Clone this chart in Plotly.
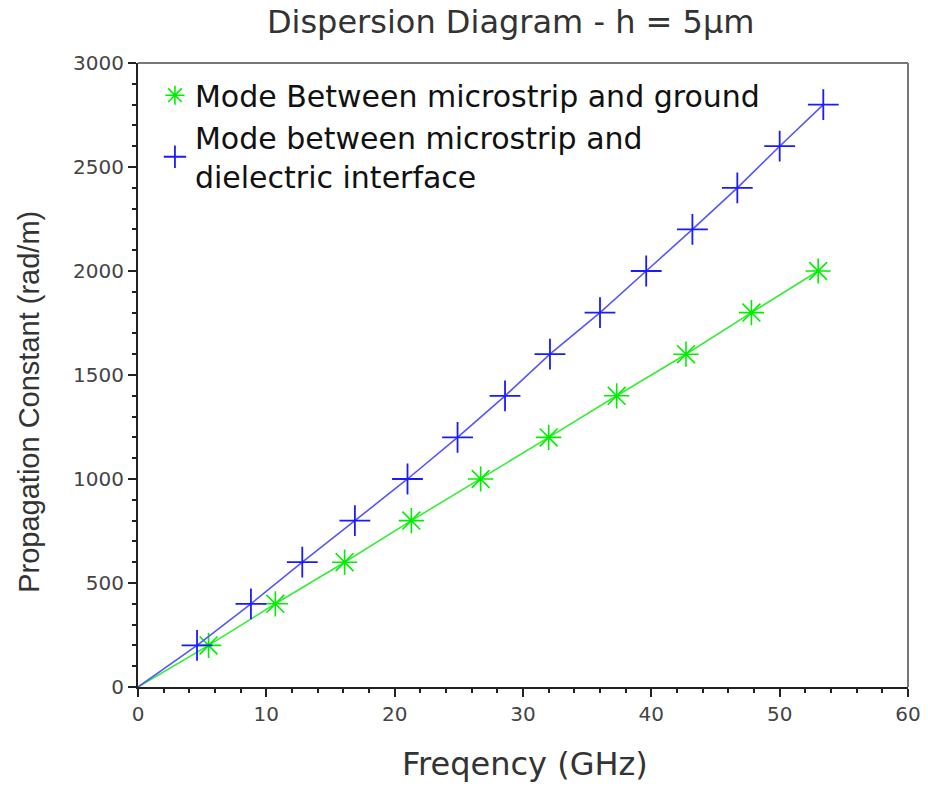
import plotly.graph_objects as go

# Data
green_freq = [0, 5.5, 10.7, 16.1, 21.3, 26.7, 32.0, 37.3, 42.7, 47.8, 53.0]
green_beta = [0, 200, 400, 600, 800, 1000, 1200, 1400, 1600, 1800, 2000]

blue_freq = [0, 4.6, 8.8, 12.8, 16.9, 21.0, 24.9, 28.6, 32.1, 36.0, 39.6, 43.2, 46.7, 50.0, 53.4]
blue_beta = [0, 200, 400, 600, 800, 1000, 1200, 1400, 1600, 1800, 2000, 2200, 2400, 2600, 2800]

x_ticks = [0, 10, 20, 30, 40, 50, 60]
y_ticks = [0, 500, 1000, 1500, 2000, 2500, 3000]

title_text = "Dispersion Diagram - h = 5µm"
x_title = "Freqency (GHz)"
y_title = "Propagation Constant (rad/m)"
green_name = "Mode Between microstrip and ground"
blue_name = "Mode between microstrip and<br>dielectric interface"

WIDE = "DejaVu Sans, Verdana, sans-serif"
NARROW = "Liberation Sans, Arial, sans-serif"

fig = go.Figure()

fig.add_trace(go.Scatter(
    x=green_freq, y=green_beta, mode="lines", line=dict(color="#33ee33", width=1.6),
    showlegend=False, hoverinfo="skip"))
fig.add_trace(go.Scatter(
    x=green_freq[1:], y=green_beta[1:], mode="markers", name=green_name,
    marker=dict(symbol="asterisk-open", size=21, color="#00ee00",
                line=dict(color="#00ee00", width=1.6))))

fig.add_trace(go.Scatter(
    x=blue_freq, y=blue_beta, mode="lines", line=dict(color="#5555ff", width=1.6),
    showlegend=False, hoverinfo="skip"))
fig.add_trace(go.Scatter(
    x=blue_freq[1:], y=blue_beta[1:], mode="markers", name=blue_name,
    marker=dict(symbol="cross-thin-open", size=22, color="#1a1aff",
                line=dict(color="#1a1aff", width=1.8))))

axis_common = dict(
    showgrid=False, zeroline=False, showline=True, linecolor="#222222", linewidth=2,
    mirror=False, ticks="outside", ticklen=8, tickwidth=2, tickcolor="#222222",
    tickfont=dict(family=WIDE, size=20, color="#444444"), automargin=False,
)

fig.update_layout(
    width=928, height=786,
    paper_bgcolor="white", plot_bgcolor="white",
    margin=dict(l=138, r=20, t=63, b=99),
    title=dict(text=title_text, xref="paper", x=0.484, xanchor="center", y=0.972, yanchor="middle",
               font=dict(family=WIDE, size=32, color="#333333")),
    xaxis=dict(range=[0, 60], tickvals=x_ticks, ticktext=[str(v) for v in x_ticks],
               minor=dict(dtick=2, ticks="outside", ticklen=4, tickwidth=1.5, tickcolor="#222222"),
               **axis_common),
    yaxis=dict(range=[0, 3000], tickvals=y_ticks, ticktext=[str(v) for v in y_ticks],
               minor=dict(dtick=100, ticks="outside", ticklen=4, tickwidth=1.5, tickcolor="#222222"),
               **axis_common),
    legend=dict(x=0.022, y=0.99, xanchor="left", yanchor="top", bgcolor="rgba(0,0,0,0)",
                font=dict(family=WIDE, size=30, color="#111111"),
                itemsizing="trace", tracegroupgap=0, itemwidth=30),
    showlegend=True,
)

# axis titles as annotations (positioned like the reference)
fig.add_annotation(text=x_title, xref="paper", yref="paper", x=0.503, y=-0.124,
                   xanchor="center", yanchor="middle", showarrow=False,
                   font=dict(family=WIDE, size=32, color="#333333"))
fig.add_annotation(text=y_title, xref="paper", yref="paper", x=-0.1416, y=0.457,
                   xanchor="center", yanchor="middle", textangle=-90, showarrow=False,
                   font=dict(family=NARROW, size=29, color="#333333"))

# frame on top and right (grey)
fig.add_shape(type="line", xref="paper", yref="paper", x0=0, x1=1, y0=1, y1=1,
              line=dict(color="#777777", width=2))
fig.add_shape(type="line", xref="paper", yref="paper", x0=1, x1=1, y0=0, y1=1,
              line=dict(color="#777777", width=2))

fig.write_html("out.html")
